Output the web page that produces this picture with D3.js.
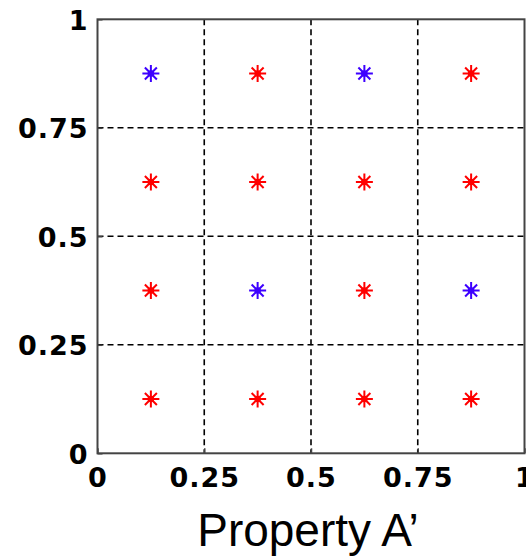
<!DOCTYPE html>
<html>
<head>
<meta charset="utf-8">
<script src="https://cdn.jsdelivr.net/npm/d3@7"></script>
<style>
  html, body { margin: 0; padding: 0; background: #fff; }
  svg { display: block; }
</style>
</head>
<body>
<svg id="chart" width="526" height="556"></svg>
<script>
// ---- data ----
const xTicks = [0, 0.25, 0.5, 0.75, 1];
const yTicks = [0, 0.25, 0.5, 0.75, 1];
const xTickLabels = ["0", "0.25", "0.5", "0.75", "1"];
const yTickLabels = ["0", "0.25", "0.5", "0.75", "1"];
const pointX = [0.125, 0.375, 0.625, 0.875, 0.125, 0.375, 0.625, 0.875, 0.125, 0.375, 0.625, 0.875, 0.125, 0.375, 0.625, 0.875];
const pointY = [0.875, 0.875, 0.875, 0.875, 0.625, 0.625, 0.625, 0.625, 0.375, 0.375, 0.375, 0.375, 0.125, 0.125, 0.125, 0.125];
const pointClass = ["B", "A", "B", "A", "A", "A", "A", "A", "A", "B", "A", "B", "A", "A", "A", "A"];
const xLabel = "Property A\u2019";

(function () {
// ---- layout ----
const svg = d3.select("#chart");
const mLeft = 97.5, mRight = 524.5, mTop = 19.3, mBottom = 453.3;
const x = d3.scaleLinear().domain([0, 1]).range([mLeft, mRight]);
const y = d3.scaleLinear().domain([0, 1]).range([mBottom, mTop]);
const color = d3.scaleOrdinal().domain(["A", "B"]).range(["#ff0000", "#3d00ff"]);

// grid
const g = svg.append("g");
g.selectAll("line.vgrid").data(xTicks.slice(1, -1)).join("line")
  .attr("class", "vgrid")
  .attr("x1", d => x(d)).attr("x2", d => x(d))
  .attr("y1", y(1)).attr("y2", y(0))
  .attr("stroke", "#000").attr("stroke-width", 1.6).attr("stroke-dasharray", "6,4");
g.selectAll("line.hgrid").data(yTicks.slice(1, -1)).join("line")
  .attr("class", "hgrid")
  .attr("y1", d => y(d)).attr("y2", d => y(d))
  .attr("x1", x(0)).attr("x2", x(1))
  .attr("stroke", "#000").attr("stroke-width", 1.6).attr("stroke-dasharray", "6,4");

// box
svg.append("rect")
  .attr("x", x(0)).attr("y", y(1))
  .attr("width", x(1) - x(0)).attr("height", y(0) - y(1))
  .attr("fill", "none").attr("stroke", "#444").attr("stroke-width", 2);

// inward ticks via axes
const axB = d3.axisBottom(x).tickValues(xTicks).tickSize(-5).tickFormat((d, i) => xTickLabels[i]).tickPadding(15);
const axL = d3.axisLeft(y).tickValues(yTicks).tickSize(-5).tickFormat((d, i) => yTickLabels[i]).tickPadding(9);

const gb = svg.append("g").attr("transform", `translate(0,${y(0)})`).call(axB);
const gl = svg.append("g").attr("transform", `translate(${x(0)},0)`).call(axL);
[gb, gl].forEach(a => {
  a.select(".domain").remove();
  a.selectAll(".tick line").attr("stroke", "#444").attr("stroke-width", 1.5);
  a.selectAll(".tick text")
    .attr("fill", "#000")
    .style("font-family", "'DejaVu Sans', sans-serif")
    .style("font-weight", "bold")
    .style("font-size", "27px")
    .style("letter-spacing", "1px");
});
gb.selectAll(".tick text").attr("dy", "0.71em");
gl.selectAll(".tick text").attr("dy", "0.36em");

// x label
svg.append("text")
  .attr("x", (x(0) + x(1)) / 2 - 3)
  .attr("y", 546)
  .attr("text-anchor", "middle")
  .style("font-family", "'Liberation Sans', Arial, sans-serif")
  .style("font-size", "46px")
  .attr("fill", "#000")
  .text(xLabel);

// star markers
const pts = pointX.map((px, i) => ({ x: px, y: pointY[i], c: pointClass[i] }));
const star = svg.append("g").selectAll("g.pt").data(pts).join("g")
  .attr("class", "pt")
  .attr("transform", d => `translate(${x(d.x)},${y(d.y)})`);
const arm = 8.5, diag = 6;
star.append("path")
  .attr("d", `M${-arm},0H${arm}M0,${-arm}V${arm}M${-diag},${-diag}L${diag},${diag}M${-diag},${diag}L${diag},${-diag}`)
  .attr("stroke", d => color(d.c)).attr("stroke-width", 2).attr("fill", "none");
star.append("circle").attr("r", 3.3).attr("fill", d => color(d.c));
})();
</script>
</body>
</html>
